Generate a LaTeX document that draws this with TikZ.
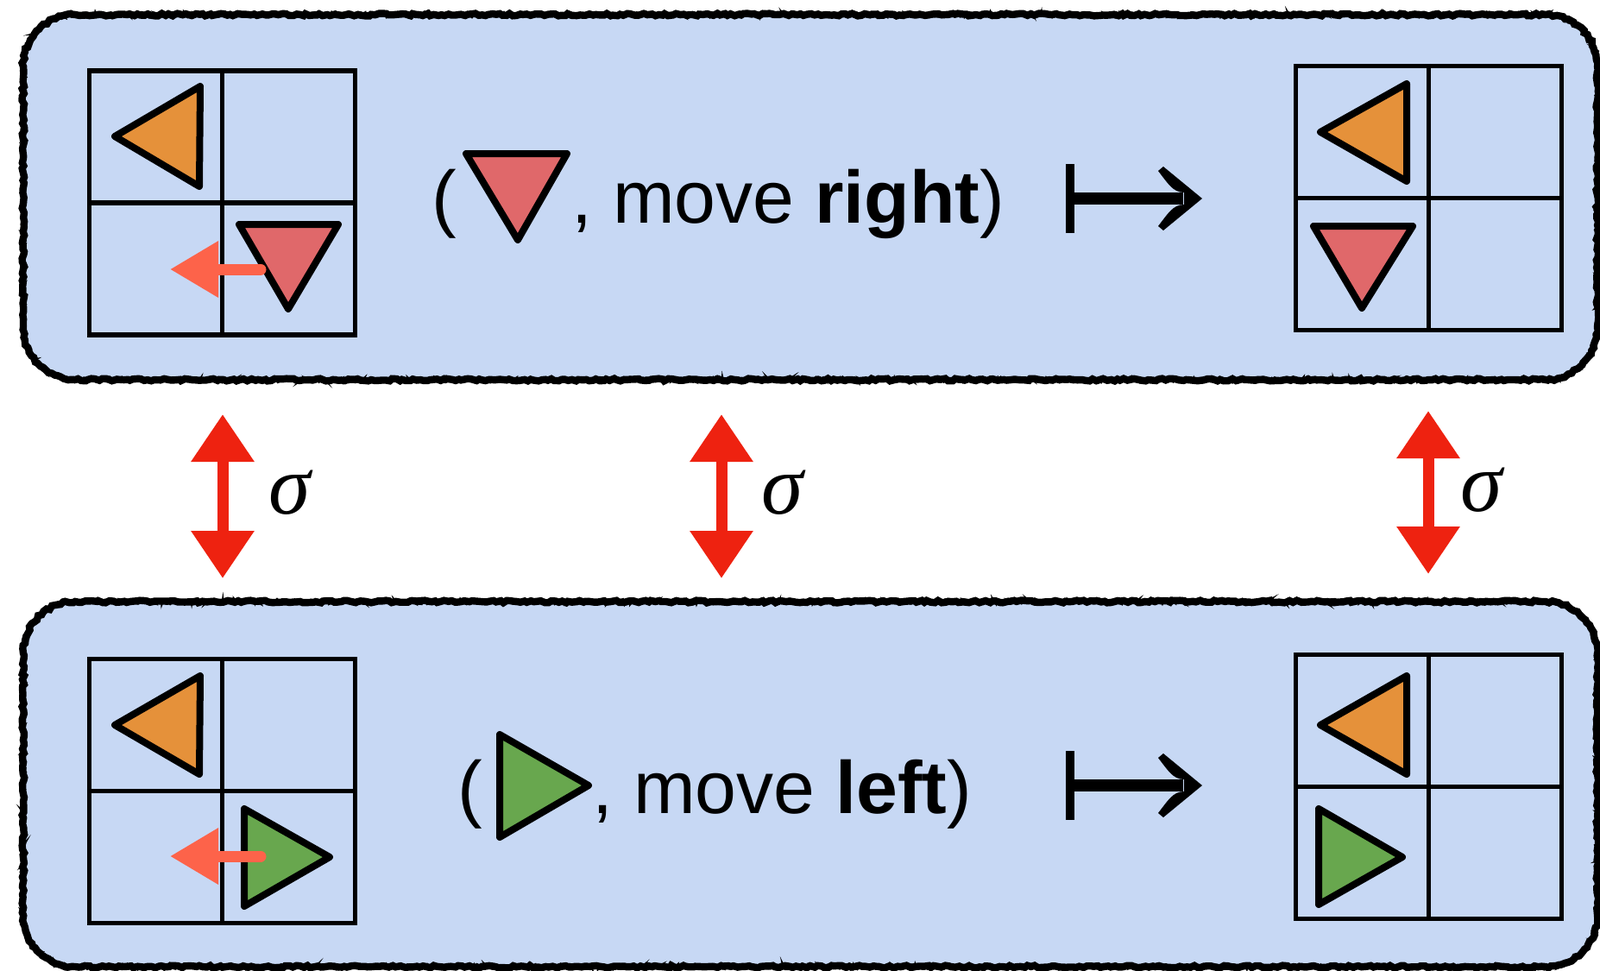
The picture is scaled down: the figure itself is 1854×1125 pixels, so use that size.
\documentclass[tikz,border=0pt]{standalone}
\usepackage{fontspec}
\setmainfont{Liberation Sans}
\newfontfamily\greekserif{Liberation Serif}
\usetikzlibrary{arrows.meta,decorations.pathmorphing}
\definecolor{boxblue}{RGB}{199,216,244}
\definecolor{orangeT}{RGB}{229,145,58}
\definecolor{redT}{RGB}{224,104,106}
\definecolor{greenT}{RGB}{104,167,78}
\definecolor{movered}{RGB}{253,99,74}
\definecolor{sigred}{RGB}{238,34,16}
\begin{document}
\begin{tikzpicture}[x=0.5pt,y=-0.5pt,
  panelfill/.style={fill=boxblue},
  roughA/.style={draw=black, line width=4.2pt, decorate,
     decoration={random steps, segment length=2pt, amplitude=0.7pt}},
  roughB/.style={draw=black, line width=1.2pt, decorate,
     decoration={random steps, segment length=1.5pt, amplitude=1.5pt}},
  gridbox/.style={draw=black, line width=2.7pt, minimum width=154pt, minimum height=153pt, inner sep=0pt},
  gline/.style={draw=black, line width=2.7pt},
  tri/.style={draw=black, line width=4pt, line join=round, line cap=round},
  lbl/.style={font=\fontsize{43}{50}\selectfont, inner sep=0pt, text=black},
  sig/.style={font=\fontsize{49}{56}\selectfont\greekserif\itshape, inner sep=0pt},
  mapshaft/.style={draw=black, line width=7pt},
  sigconn/.style={draw=sigred, line width=6.5pt, {Triangle[length=27.5pt, width=35pt]}-{Triangle[length=27.5pt, width=35pt]}},
  moveconn/.style={draw=movered, line width=6.5pt, line cap=round, -{Triangle[length=28pt, width=31pt]}},
  mhead/.pic={
    \fill[black] (22,0) -- (-23,-37) -- (-29,-32) .. controls (-18,-18) and (-12,-7) .. (1,-7)
       -- (1,7) .. controls (-12,7) and (-18,18) .. (-29,32) -- (-23,37) -- cycle;
  },
  mbar/.pic={
    \fill[black] (-5,-40) rectangle (5,40);
  }
]
\useasboundingbox (0,0) rectangle (1854,1125);
\fill[white] (0,0) rectangle (1854,1125);

% panels
\foreach \st in {panelfill,roughA,roughB}{
  \path[\st] (27,77) .. controls (27,44) and (54,17) .. (87,17) -- (1791,17) .. controls (1824,17) and (1851,44) .. (1851,77)
    -- (1851,380) .. controls (1851,413) and (1824,440) .. (1791,440) -- (87,440) .. controls (54,440) and (27,413) .. (27,380) -- cycle;
  \path[\st] (27,757) .. controls (27,724) and (54,697) .. (87,697) -- (1791,697) .. controls (1824,697) and (1851,724) .. (1851,757)
    -- (1851,1060) .. controls (1851,1093) and (1824,1120) .. (1791,1120) -- (87,1120) .. controls (54,1120) and (27,1093) .. (27,1060) -- cycle;
}

% grids
\node[gridbox] (g1) at (257.5,235) {};
\node[gridbox] (g2) at (1655.5,229.5) {};
\node[gridbox] (g3) at (257.5,916.5) {};
\node[gridbox] (g4) at (1655.5,911.5) {};
\foreach \g in {g1,g2,g3,g4}{
  \draw[gline] (\g.north) -- (\g.south);
  \draw[gline] (\g.west) -- (\g.east);
}

% triangles top
\filldraw[tri, fill=orangeT] (133,158) -- (232,100) -- (231,216) -- cycle;
\filldraw[tri, fill=redT] (277,260) -- (392,260) -- (334,358) -- cycle;
\filldraw[tri, fill=redT] (540,178) -- (657,178) -- (600,278) -- cycle;
\filldraw[tri, fill=orangeT] (1530,153) -- (1630,97) -- (1630,210) -- cycle;
\filldraw[tri, fill=redT] (1522,262) -- (1637,262) -- (1578,357) -- cycle;
% triangles bottom
\filldraw[tri, fill=orangeT] (133,840) -- (232,783) -- (231,897) -- cycle;
\filldraw[tri, fill=greenT] (283,937) -- (283,1050) -- (382,993) -- cycle;
\filldraw[tri, fill=greenT] (579,851) -- (579,970) -- (682,910) -- cycle;
\filldraw[tri, fill=orangeT] (1530,840) -- (1630,783) -- (1630,897) -- cycle;
\filldraw[tri, fill=greenT] (1528,937) -- (1528,1048) -- (1625,993) -- cycle;

% move arrows
\coordinate (m1s) at (302,312);
\coordinate (m1e) at (197,312);
\coordinate (m2s) at (302,992);
\coordinate (m2e) at (197,992);
\draw[moveconn] (m1s) -- (m1e);
\draw[moveconn] (m2s) -- (m2e);

% texts
\node[lbl, anchor=base west] (p1) at (500,258) {(};
\node[lbl, anchor=base west] (t1) at (662,258) {, move \textbf{right})};
\node[lbl, anchor=base west] (p2) at (530,942) {(};
\node[lbl, anchor=base west] (t2) at (686,942) {, move \textbf{left})};

% maps-to arrows
\coordinate (a1s) at (1240,230);
\coordinate (a1e) at (1371,230);
\coordinate (a2s) at (1240,910);
\coordinate (a2e) at (1371,910);
\draw[mapshaft] (a1s) -- (a1e);
\draw[mapshaft] (a2s) -- (a2e);
\pic at (a1s) {mbar};
\pic at (a2s) {mbar};
\pic at (a1e) {mhead};
\pic at (a2e) {mhead};

% sigma connectors
\coordinate (s1a) at (258,480);
\coordinate (s1b) at (258,670);
\coordinate (s2a) at (836,480);
\coordinate (s2b) at (836,670);
\coordinate (s3a) at (1655,476);
\coordinate (s3b) at (1655,665);
\draw[sigconn] (s1a) -- (s1b);
\draw[sigconn] (s2a) -- (s2b);
\draw[sigconn] (s3a) -- (s3b);
\node[sig] (l1) at (336,571) {σ};
\node[sig] (l2) at (907,571) {σ};
\node[sig] (l3) at (1717,568) {σ};
\end{tikzpicture}
\end{document}
